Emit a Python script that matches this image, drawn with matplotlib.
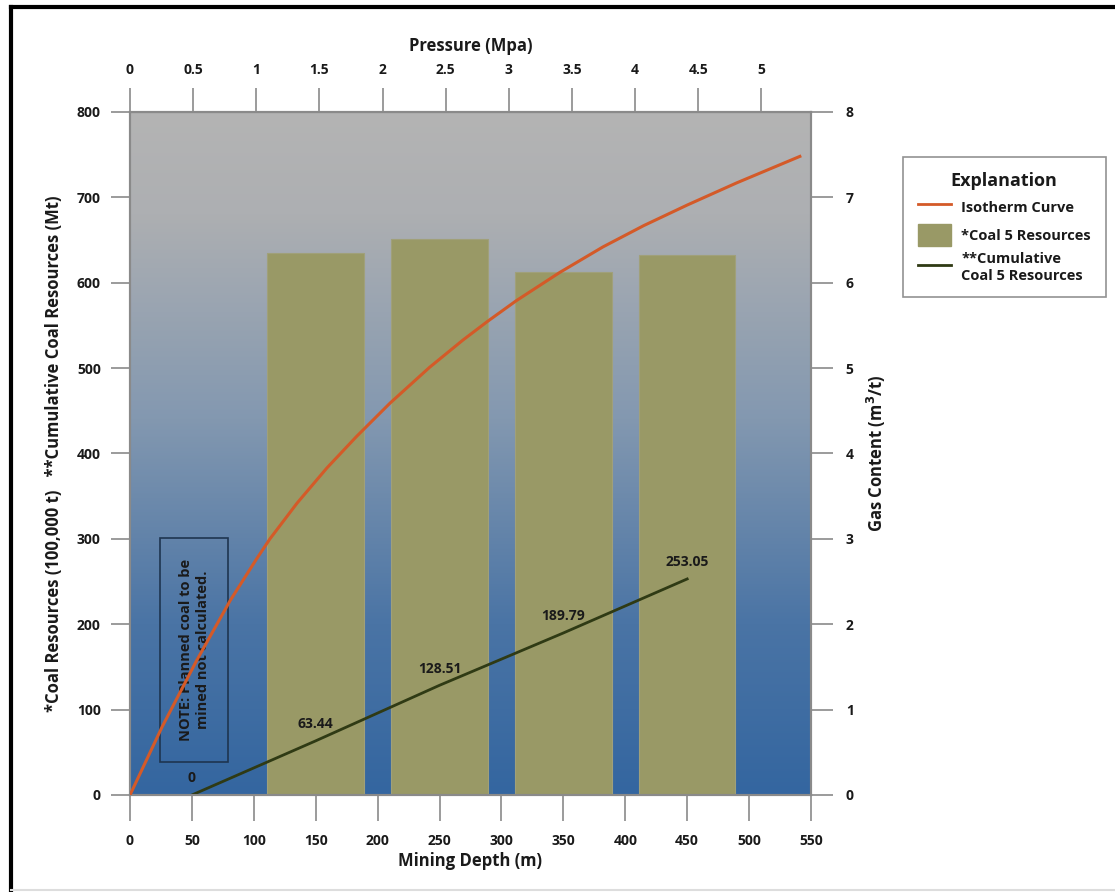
import numpy as np
import matplotlib
matplotlib.use("Agg")
import matplotlib.pyplot as plt
from matplotlib.colors import LinearSegmentedColormap
from matplotlib.lines import Line2D
from matplotlib.patches import Patch, Rectangle

# ---------------- data ----------------
bar_depths = [150, 250, 350, 450]
coal_resources = [634.4, 650.7, 612.8, 632.6]          # 100,000 t
cum_depths = [50, 150, 250, 350, 450]
cum_resources = [0, 63.44, 128.51, 189.79, 253.05]     # Mt
cum_labels = ["0", "63.44", "128.51", "189.79", "253.05"]
iso_depth = [0, 26, 54, 81, 102, 113, 135, 159, 183, 210, 242, 269, 289, 312,
             347, 382, 415, 450, 490, 541]
iso_gas = [0, 0.80, 1.58, 2.28, 2.76, 3.00, 3.42, 3.83, 4.20, 4.59, 5.01, 5.33,
           5.55, 5.79, 6.12, 6.42, 6.67, 6.91, 7.17, 7.48]
depth_ticks = list(range(0, 551, 50))
left_ticks = list(range(0, 801, 100))
gas_ticks = list(range(0, 9))
pressure_ticks = [0, 0.5, 1, 1.5, 2, 2.5, 3, 3.5, 4, 4.5, 5]
M_PER_MPA = 102.0

FONT = ["Open Sans", "DejaVu Sans"]
plt.rcParams['font.family'] = FONT
plt.rcParams['font.weight'] = 'bold'

BAR_C = "#999966"
ISO_C = "#D45A28"
CUM_C = "#2F3A14"
SPINE_C = "#8A8A8A"
TXT_C = "#1A1A1A"

fig = plt.figure(figsize=(11.15, 8.92), dpi=100)
ax = fig.add_axes([130/1115, 1-795/892, 681/1115, 683/892])
ax.set_xlim(0, 550)
ax.set_ylim(0, 800)

# gradient background
cmap = LinearSegmentedColormap.from_list("bg", [
    (0.0, "#3466A0"), (0.25, "#4A74A5"), (0.55, "#8398B0"),
    (0.85, "#ADAFB2"), (1.0, "#B4B4B4")])
grad = np.linspace(0, 1, 256).reshape(-1, 1)
ax.imshow(grad, cmap=cmap, origin="lower", extent=[0, 550, 0, 800],
          aspect="auto", zorder=0)

# bars
ax.bar(bar_depths, coal_resources, width=78, color=BAR_C,
       edgecolor="#A0A07A", linewidth=0.8, zorder=2)

# cumulative line
ax.plot(cum_depths, cum_resources, color=CUM_C, lw=2, zorder=4)
for x, y, t in zip(cum_depths, cum_resources, cum_labels):
    ax.annotate(t, (x, y), xytext=(0, 7), textcoords="offset points",
                ha="center", va="bottom", fontsize=10, fontweight="bold",
                color=TXT_C, zorder=6)

# isotherm on secondary y
ax2 = ax.twinx()
ax2.set_ylim(0, 8)
ax2.plot(iso_depth, iso_gas, color=ISO_C, lw=2.2, zorder=5)

# note box
ax.add_patch(Rectangle((24.5, 38.6), 55, 262, fill=False, edgecolor="#1E3550",
                       lw=1.2, zorder=3))
ax.text(52, 170, "NOTE: Planned coal to be\nmined not calculated.", rotation=90,
        ha="center", va="center", fontsize=10.5, fontweight="bold",
        color=TXT_C, linespacing=1.25, zorder=6)

# ticks
ax.set_xticks(depth_ticks)
ax.set_yticks(left_ticks)
ax2.set_yticks(gas_ticks)
for a in (ax, ax2):
    for s in a.spines.values():
        s.set_color(SPINE_C)
        s.set_linewidth(1.5)
ax.tick_params(axis="x", direction="out", length=19, width=1.2, color=SPINE_C,
               pad=9, labelsize=10, labelcolor=TXT_C)
ax.tick_params(axis="y", direction="out", length=14, width=1.2, color=SPINE_C,
               pad=7, labelsize=10, labelcolor=TXT_C)
ax2.tick_params(axis="y", direction="out", length=16, width=1.2, color=SPINE_C,
                pad=9, labelsize=10, labelcolor=TXT_C)

sec = ax.secondary_xaxis("top", functions=(lambda d: d / M_PER_MPA,
                                           lambda p: p * M_PER_MPA))
sec.set_xticks(pressure_ticks)
sec.set_xticklabels([f"{p:g}" for p in pressure_ticks])
sec.tick_params(axis="x", direction="out", length=17, width=1.2, color=SPINE_C,
                pad=8, labelsize=10, labelcolor=TXT_C)
sec.spines["top"].set_color(SPINE_C)
sec.set_xlabel("Pressure (Mpa)", fontsize=12, fontweight="bold", labelpad=9,
               color=TXT_C)

ax.set_xlabel("Mining Depth (m)", fontsize=12, fontweight="bold", labelpad=3,
              color=TXT_C)
ax.set_ylabel("*Coal Resources (100,000 t)   **Cumulative Coal Resources (Mt)",
              fontsize=12, fontweight="bold", labelpad=10, color=TXT_C)
ax2.set_ylabel("Gas Content (m$^3$/t)", fontsize=12, fontweight="bold",
               labelpad=8, color=TXT_C)

for lab in ax.get_xticklabels() + ax.get_yticklabels() + ax2.get_yticklabels() + sec.get_xticklabels():
    lab.set_fontweight("bold")

# legend
handles = [Line2D([], [], color=ISO_C, lw=2),
           Patch(facecolor=BAR_C, edgecolor=BAR_C),
           Line2D([], [], color=CUM_C, lw=2)]
labels = ["Isotherm Curve", "*Coal 5 Resources", "**Cumulative\nCoal 5 Resources"]
leg = fig.legend(handles, labels, title="Explanation", loc="upper left",
                 bbox_to_anchor=(903/1115, 1-157/892), frameon=True,
                 fancybox=False, edgecolor="#777777", fontsize=10.5,
                 title_fontsize=13, borderpad=1.0, handlelength=2.3,
                 handleheight=1.9, labelspacing=0.45, borderaxespad=0,
                 handletextpad=0.7)
leg.get_title().set_fontweight("bold")
leg.get_title().set_color(TXT_C)
leg.get_frame().set_linewidth(1.2)
for t in leg.get_texts():
    t.set_fontweight("bold")
    t.set_color(TXT_C)

# outer frame (top and left visible)
fig.add_artist(Line2D([11/1115, 11/1115], [0, 1-7/892], transform=fig.transFigure,
                      color="black", lw=3))
fig.add_artist(Line2D([11/1115, 1], [1-7/892, 1-7/892], transform=fig.transFigure,
                      color="black", lw=3))
fig.add_artist(Line2D([11/1115, 1], [2/892, 2/892], transform=fig.transFigure,
                      color="#DDDDDD", lw=1.5))

fig.savefig("out.png", dpi=100)
